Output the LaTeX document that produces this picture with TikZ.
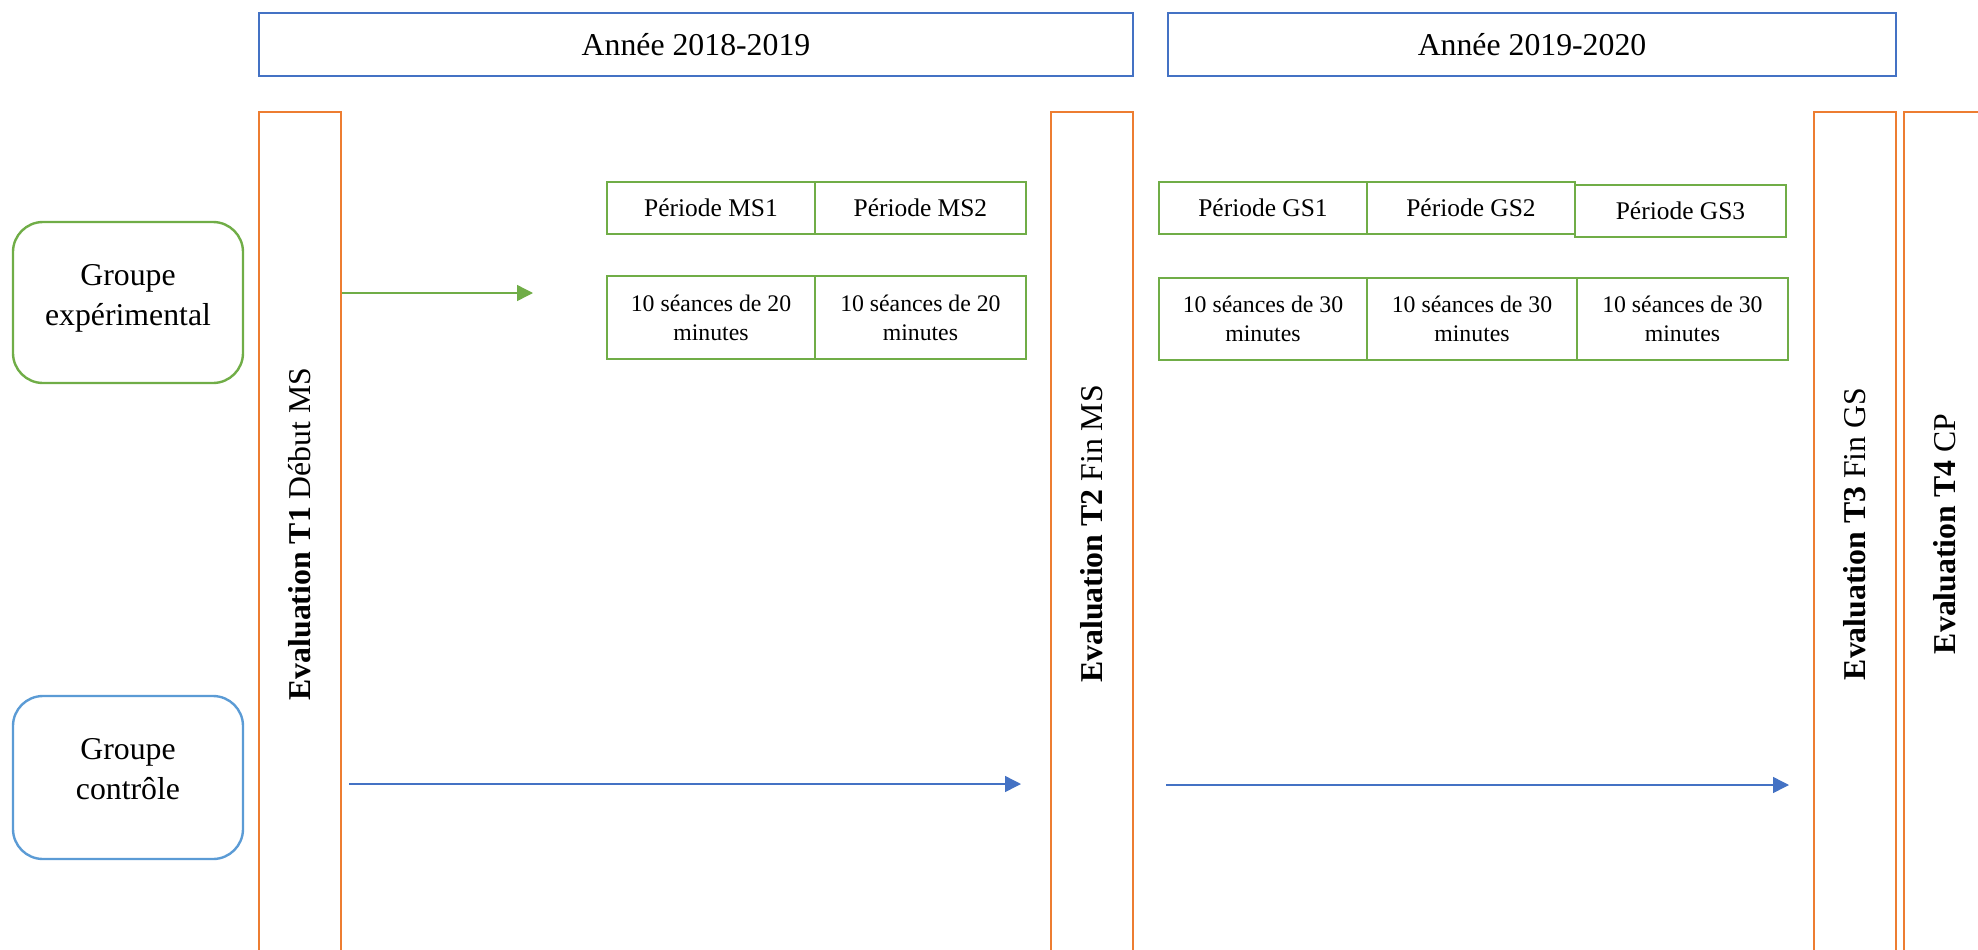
\documentclass[tikz,border=0pt]{standalone}
\usepackage{fontspec}
\setmainfont{Liberation Serif}
\usetikzlibrary{arrows.meta}
\definecolor{yearblue}{HTML}{4472C4}
\definecolor{evalorange}{HTML}{ED7D31}
\definecolor{expgreen}{HTML}{70AD47}
\definecolor{ctrlblue}{HTML}{5B9BD5}
\tikzset{
	yearbox/.style={draw=yearblue, line width=1.7pt},
	evalbar/.style={draw=evalorange, line width=1.7pt},
	periodbox/.style={draw=expgreen, line width=1.7pt},
	groupbox/.style={line width=1.7pt, rounded corners=0.75cm},
	bigtext/.style={font=\fontsize{22.6}{28.5}\selectfont},
	periodtext/.style={font=\fontsize{18.1}{22}\selectfont},
	seancetext/.style={align=center, font=\fontsize{16.9}{20.6}\selectfont},
	exparrow/.style={draw=expgreen, line width=1pt, -{Triangle[length=4mm, width=4mm]}},
	ctrlarrow/.style={draw=yearblue, line width=1pt, -{Triangle[length=4mm, width=4mm]}}
}

\begin{document}
\begin{tikzpicture}
	\useasboundingbox (0,0) rectangle (49.45,-23.725);
	\clip (0,0) rectangle (49.45,-23.725);

	% Years
	\node[yearbox, minimum width=21.85cm, minimum height=1.575cm] (year1) at (17.4,-1.1125) {};
	\node[bigtext] at (year1) {Année 2018-2019};
	\node[yearbox, minimum width=18.2cm, minimum height=1.575cm] (year2) at (38.3,-1.1125) {};
	\node[bigtext] at (year2) {Année 2019-2020};

	% Evaluations
	\node[evalbar, minimum width=2.05cm, minimum height=22.2cm] (t1) at (7.5,-13.9) {};
	\node[bigtext, rotate=90] at (7.5,-13.35) {\textbf{Evaluation T1} Début MS};
	\node[evalbar, minimum width=2.05cm, minimum height=22.2cm] (t2) at (27.3,-13.9) {};
	\node[bigtext, rotate=90] at (27.3,-13.35) {\textbf{Evaluation T2} Fin MS};
	\node[evalbar, minimum width=2.05cm, minimum height=22.2cm] (t3) at (46.375,-13.9) {};
	\node[bigtext, rotate=90] at (46.375,-13.35) {\textbf{Evaluation T3} Fin GS};
	\node[evalbar, minimum width=2.05cm, minimum height=22.2cm] (t4) at (48.625,-13.9) {};
	\node[bigtext, rotate=90] at (48.625,-13.35) {\textbf{Evaluation T4} CP};

	% Groups
	\node[groupbox, draw=expgreen, minimum width=5.75cm, minimum height=4.025cm] (exp) at (3.2,-7.5625) {};
	\node[bigtext, align=center] at ([yshift=1mm]exp.center) {Groupe\\expérimental};
	\node[groupbox, draw=ctrlblue, minimum width=5.75cm, minimum height=4.075cm] (ctrl) at (3.2,-19.4375) {};
	\node[bigtext, align=center] at ([yshift=2mm]ctrl.center) {Groupe\\contrôle};

	% Periods MS
	\node[periodbox, minimum width=5.2cm, minimum height=1.3cm] (ms1) at (17.775,-5.2) {};
	\node[periodtext] at (ms1) {Période MS1};
	\node[periodbox, minimum width=5.275cm, minimum height=1.3cm] (ms2) at (23.01,-5.2) {};
	\node[periodtext] at (ms2) {Période MS2};
	\node[periodbox, minimum width=5.2cm, minimum height=2.075cm] (sms1) at (17.775,-7.9375) {};
	\node[seancetext] at (sms1) {10 séances de 20\\minutes};
	\node[periodbox, minimum width=5.275cm, minimum height=2.075cm] (sms2) at (23.01,-7.9375) {};
	\node[seancetext] at (sms2) {10 séances de 20\\minutes};

	% Periods GS
	\node[periodbox, minimum width=5.2cm, minimum height=1.3cm] (gs1) at (31.575,-5.2) {};
	\node[periodtext] at (gs1) {Période GS1};
	\node[periodbox, minimum width=5.2cm, minimum height=1.3cm] (gs2) at (36.775,-5.2) {};
	\node[periodtext] at (gs2) {Période GS2};
	\node[periodbox, minimum width=5.275cm, minimum height=1.3cm] (gs3) at (42.0125,-5.275) {};
	\node[periodtext] at (gs3) {Période GS3};
	\node[periodbox, minimum width=5.2cm, minimum height=2.05cm] (sgs1) at (31.575,-7.975) {};
	\node[seancetext] at (sgs1) {10 séances de 30\\minutes};
	\node[periodbox, minimum width=5.25cm, minimum height=2.05cm] (sgs2) at (36.8,-7.975) {};
	\node[seancetext] at (sgs2) {10 séances de 30\\minutes};
	\node[periodbox, minimum width=5.275cm, minimum height=2.05cm] (sgs3) at (42.06,-7.975) {};
	\node[seancetext] at (sgs3) {10 séances de 30\\minutes};

	% Arrows
	\coordinate (expend) at (13.325,-7.325);
	\coordinate (ctrla) at (8.725,-19.6);
	\coordinate (ctrlb) at (25.525,-19.6);
	\coordinate (ctrlc) at (29.15,-19.625);
	\coordinate (ctrld) at (44.725,-19.625);
	\draw[exparrow] (t1.east |- expend) -- (expend);
	\draw[ctrlarrow] (ctrla) -- (ctrlb);
	\draw[ctrlarrow] (ctrlc) -- (ctrld);
\end{tikzpicture}
\end{document}
